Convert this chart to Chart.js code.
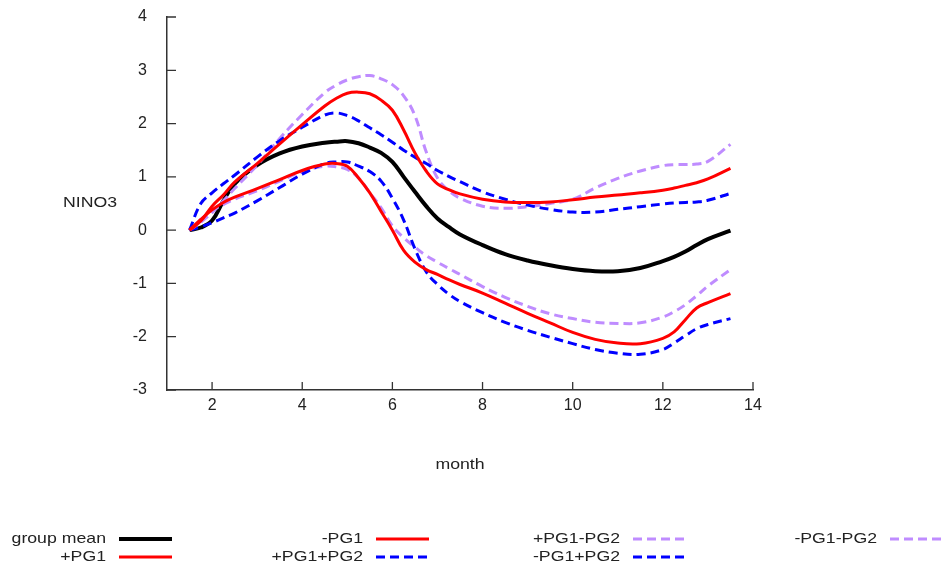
<!DOCTYPE html>
<html><head><meta charset="utf-8">
<script src="https://cdn.jsdelivr.net/npm/chart.js@4/dist/chart.umd.min.js"></script>
<style>html,body{margin:0;padding:0;background:#fff;}canvas{display:block;}</style>
</head><body>
<canvas id="c" width="943" height="569"></canvas>
<script>
// ---- data ----
const months = [1.5,1.75,2,2.25,2.5,3,3.5,4,4.5,4.75,5,5.25,5.5,5.75,6,6.25,6.5,6.75,7,7.25,7.5,8,8.5,9,9.5,10,10.5,11,11.5,12,12.25,12.5,12.75,13,13.5];
const groupMean = [0,0.05,0.18,0.55,0.87,1.22,1.44,1.57,1.64,1.66,1.67,1.63,1.55,1.45,1.28,1.0,0.72,0.45,0.22,0.06,-0.08,-0.28,-0.45,-0.57,-0.66,-0.73,-0.77,-0.77,-0.71,-0.58,-0.5,-0.4,-0.28,-0.17,-0.01];
const plusPG1 = [0,0.17,0.45,0.66,0.9,1.25,1.62,1.98,2.33,2.47,2.57,2.59,2.56,2.44,2.25,1.88,1.45,1.11,0.87,0.76,0.68,0.58,0.53,0.52,0.53,0.57,0.62,0.66,0.7,0.75,0.79,0.84,0.89,0.96,1.16];
const minusPG1 = [0,0.2,0.38,0.52,0.62,0.78,0.95,1.12,1.24,1.25,1.2,0.98,0.7,0.35,0.0,-0.38,-0.6,-0.74,-0.83,-0.93,-1.02,-1.18,-1.37,-1.56,-1.74,-1.92,-2.05,-2.12,-2.13,-2.03,-1.91,-1.68,-1.46,-1.36,-1.19];
const plusPG1plusPG2 = [0,0.5,0.7,0.87,1.03,1.37,1.68,1.93,2.16,2.2,2.15,2.05,1.92,1.79,1.65,1.5,1.37,1.25,1.12,1.01,0.91,0.72,0.58,0.47,0.39,0.34,0.34,0.39,0.44,0.49,0.51,0.52,0.53,0.56,0.69];
const plusPG1minusPG2 = [0,0.15,0.33,0.55,0.78,1.22,1.72,2.17,2.58,2.72,2.82,2.88,2.9,2.84,2.73,2.52,2.15,1.47,0.98,0.74,0.6,0.45,0.41,0.44,0.5,0.58,0.79,0.97,1.11,1.21,1.23,1.23,1.24,1.29,1.61];
const minusPG1plusPG2 = [0,0.06,0.14,0.23,0.32,0.55,0.8,1.05,1.25,1.28,1.28,1.2,1.1,0.92,0.6,0.19,-0.35,-0.78,-1.02,-1.2,-1.34,-1.55,-1.73,-1.88,-2.01,-2.13,-2.24,-2.31,-2.33,-2.24,-2.12,-1.98,-1.85,-1.77,-1.66];
const minusPG1minusPG2 = [0,0.2,0.37,0.48,0.58,0.74,0.92,1.1,1.2,1.19,1.14,0.98,0.7,0.42,0.08,-0.14,-0.32,-0.48,-0.6,-0.72,-0.83,-1.06,-1.26,-1.43,-1.57,-1.66,-1.73,-1.75,-1.74,-1.63,-1.53,-1.4,-1.23,-1.05,-0.74];
const seriesNames = ['group mean','+PG1','-PG1','+PG1+PG2','+PG1-PG2','-PG1+PG2','-PG1-PG2'];
const seriesValues = [groupMean,plusPG1,minusPG1,plusPG1plusPG2,plusPG1minusPG2,minusPG1plusPG2,minusPG1minusPG2];
const xTickValues = [2,4,6,8,10,12,14];
const yTickValues = [-3,-2,-1,0,1,2,3,4];
const xTitle = 'month';
const yTitle = 'NINO3';

// ---- styles ----
const RED='#ff0000', BLUE='#0000ff', PURPLE='#bf8cff';
const styles = [
  {color:'#000000', width:4, dash:[]},
  {color:RED, width:3, dash:[]},
  {color:RED, width:3, dash:[]},
  {color:BLUE, width:3, dash:[9,5]},
  {color:PURPLE, width:3, dash:[9,5]},
  {color:BLUE, width:3, dash:[9,5]},
  {color:PURPLE, width:3, dash:[9,5]}
];
const STRETCH = 1.18;
const FONT = '15px "Liberation Sans", Arial, sans-serif';

Chart.defaults.font.family = '"Liberation Sans", Arial, sans-serif';
Chart.defaults.font.size = 16;
Chart.defaults.color = '#222';

function drawText(ctx, s, x, y, align){
  ctx.save();
  ctx.translate(x, y);
  ctx.scale(STRETCH, 1);
  ctx.font = FONT;
  ctx.fillStyle = '#222';
  ctx.textAlign = align;
  ctx.textBaseline = 'middle';
  ctx.fillText(s, 0, 0);
  ctx.restore();
}

const decor = {
  id: 'decor',
  afterDraw(chart){
    const ctx = chart.ctx, xs = chart.scales.x, ys = chart.scales.y, ca = chart.chartArea;
    ctx.save();
    ctx.strokeStyle = '#333';
    ctx.lineWidth = 1.3;
    ctx.setLineDash([]);
    ctx.beginPath();
    xs.ticks.forEach(t => { const p = xs.getPixelForValue(t.value); ctx.moveTo(p, ca.bottom); ctx.lineTo(p, ca.bottom - 8); });
    ys.ticks.forEach(t => { const p = ys.getPixelForValue(t.value); ctx.moveTo(ca.left, p); ctx.lineTo(ca.left + 9, p); });
    ctx.stroke();
    drawText(ctx, xTitle, (ca.left + ca.right) / 2, 465, 'center');
    drawText(ctx, yTitle, 90, 203, 'center');
    const colRight = [106, 363, 620, 877];
    const rowY = [539, 557];
    chart.data.datasets.forEach((ds, i) => {
      const col = Math.floor(i / 2), row = i % 2;
      const xr = colRight[col], y = rowY[row];
      drawText(ctx, ds.label, xr, y, 'right');
      ctx.save();
      ctx.strokeStyle = ds.borderColor;
      ctx.lineWidth = ds.borderWidth;
      ctx.setLineDash(ds.borderDash || []);
      ctx.beginPath();
      ctx.moveTo(xr + 13, y);
      ctx.lineTo(xr + 66, y);
      ctx.stroke();
      ctx.restore();
    });
    ctx.restore();
  }
};

new Chart(document.getElementById('c'), {
  type: 'line',
  data: {
    datasets: seriesNames.map((name, i) => ({
      label: name,
      data: months.map((m, j) => ({x: m, y: seriesValues[i][j]})),
      borderColor: styles[i].color,
      backgroundColor: styles[i].color,
      borderWidth: styles[i].width,
      borderDash: styles[i].dash,
      pointRadius: 0,
      fill: false,
      tension: 0.4,
      order: i === 0 ? 10 : i
    }))
  },
  options: {
    responsive: false,
    animation: false,
    devicePixelRatio: 1,
    layout: {padding: {left: 0, right: 190, top: 17, bottom: 0}},
    plugins: {legend: {display: false}, tooltip: {enabled: false}, title: {display: false}},
    scales: {
      x: {
        type: 'linear', min: 1, max: 14,
        afterBuildTicks: s => { s.ticks = xTickValues.map(v => ({value: v})); },
        afterFit: s => { s.height = 569 - 390; s.paddingLeft = 0; s.paddingRight = 0; },
        grid: {display: true, drawOnChartArea: false, drawTicks: false},
        border: {display: true, color: '#333', width: 1.5},
        ticks: {padding: 6, color: '#222', font: {size: 16}, maxRotation: 0}
      },
      y: {
        type: 'linear', min: -3, max: 4,
        afterBuildTicks: s => { s.ticks = yTickValues.map(v => ({value: v})); },
        afterFit: s => { s.width = 167; s.paddingTop = 0; s.paddingBottom = 0; },
        grid: {display: true, drawOnChartArea: false, drawTicks: false},
        border: {display: true, color: '#333', width: 1.5},
        ticks: {padding: 20, color: '#222', font: {size: 16}}
      }
    }
  },
  plugins: [decor]
});
</script>
</body></html>
